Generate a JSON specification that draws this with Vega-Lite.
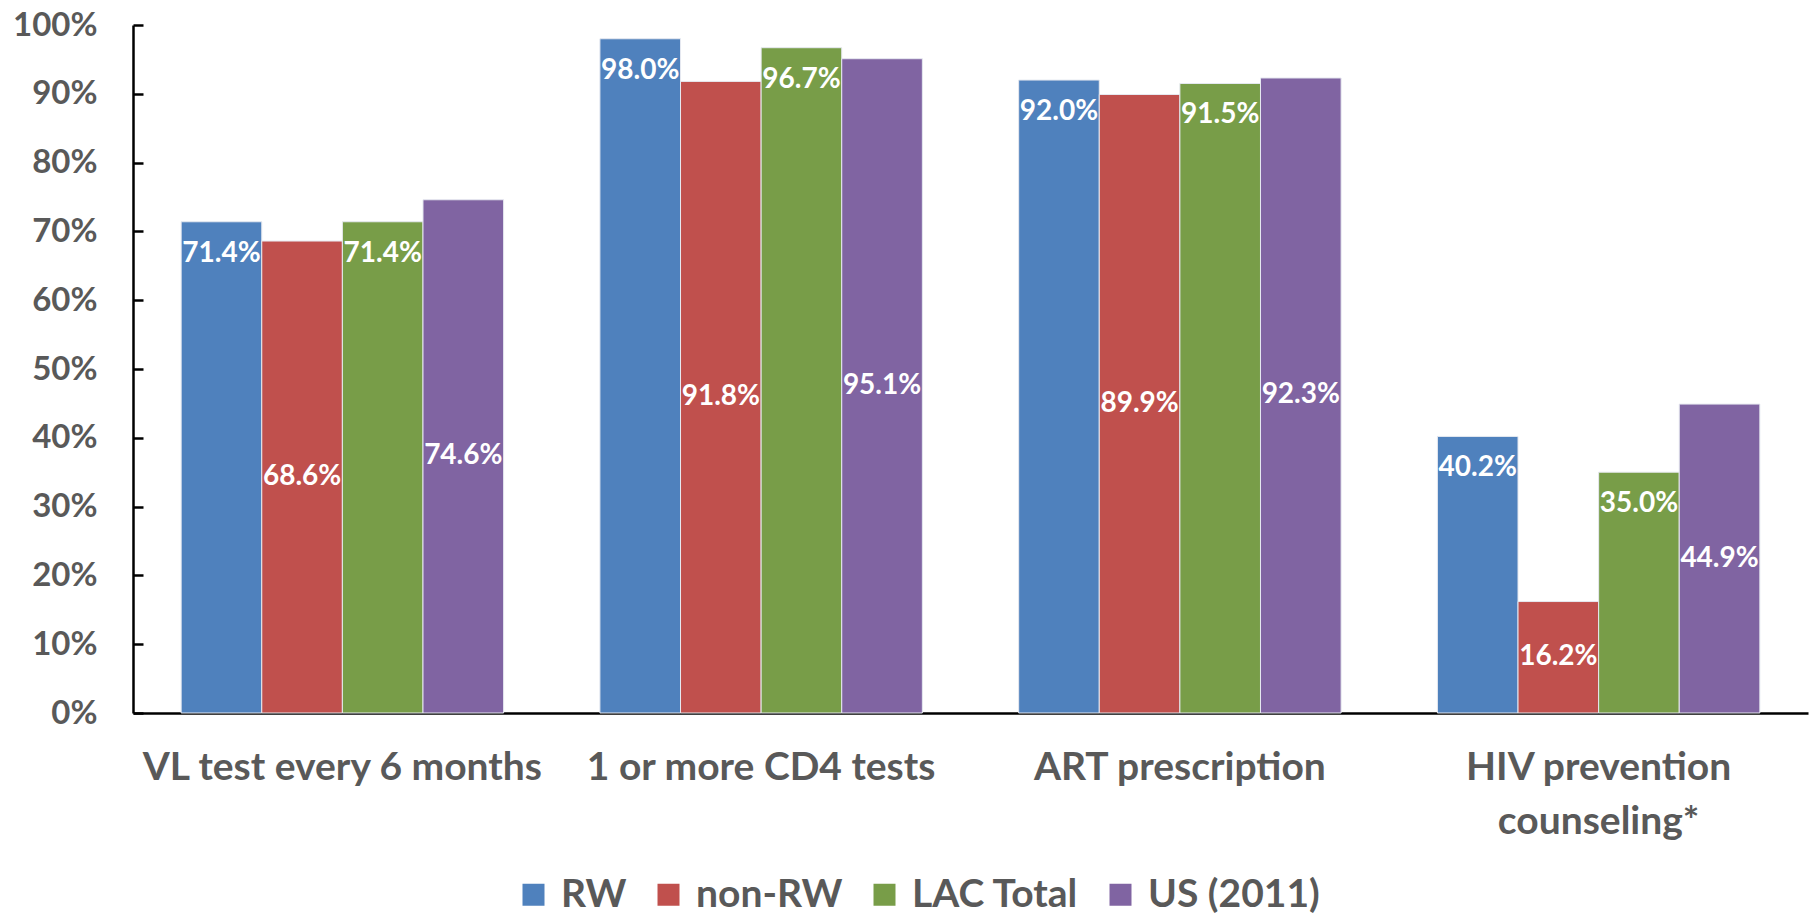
{
  "$schema": "https://vega.github.io/schema/vega-lite/v6.json",
  "autosize": {"type": "none"},
  "width": 1675,
  "height": 688,
  "padding": {"left": 133, "top": 25, "right": 3, "bottom": 201},
  "background": "white",
  "config": {
    "view": {"stroke": null},
    "font": "Lato"
  },
  "data": {
    "values": [
      {"category": "VL test every 6 months", "series": "RW", "value": 0.714},
      {"category": "VL test every 6 months", "series": "non-RW", "value": 0.686},
      {"category": "VL test every 6 months", "series": "LAC Total", "value": 0.714},
      {"category": "VL test every 6 months", "series": "US (2011)", "value": 0.746},
      {"category": "1 or more CD4 tests", "series": "RW", "value": 0.980},
      {"category": "1 or more CD4 tests", "series": "non-RW", "value": 0.918},
      {"category": "1 or more CD4 tests", "series": "LAC Total", "value": 0.967},
      {"category": "1 or more CD4 tests", "series": "US (2011)", "value": 0.951},
      {"category": "ART prescription", "series": "RW", "value": 0.920},
      {"category": "ART prescription", "series": "non-RW", "value": 0.899},
      {"category": "ART prescription", "series": "LAC Total", "value": 0.915},
      {"category": "ART prescription", "series": "US (2011)", "value": 0.923},
      {"category": "HIV prevention counseling*", "series": "RW", "value": 0.402},
      {"category": "HIV prevention counseling*", "series": "non-RW", "value": 0.162},
      {"category": "HIV prevention counseling*", "series": "LAC Total", "value": 0.350},
      {"category": "HIV prevention counseling*", "series": "US (2011)", "value": 0.449}
    ]
  },
  "encoding": {
    "x": {
      "field": "category",
      "type": "nominal",
      "sort": ["VL test every 6 months", "1 or more CD4 tests", "ART prescription", "HIV prevention counseling*"],
      "scale": {"paddingInner": 0.23, "paddingOuter": 0.115},
      "axis": {
        "title": null,
        "labelAngle": 0,
        "labelFont": "Lato",
        "labelFontWeight": "bold",
        "labelFontSize": 39,
        "labelColor": "#595959",
        "labelPadding": 35,
        "labelLineHeight": 54,
        "labelLimit": 0,
        "labelExpr": "datum.label == 'HIV prevention counseling*' ? ['HIV prevention', 'counseling*'] : datum.label",
        "ticks": false,
        "domainColor": "#000000",
        "domainWidth": 2.5
      }
    },
    "xOffset": {
      "field": "series",
      "type": "nominal",
      "sort": ["RW", "non-RW", "LAC Total", "US (2011)"],
      "scale": {"paddingInner": 0, "paddingOuter": 0}
    }
  },
  "layer": [
    {
      "mark": {"type": "bar", "stroke": "#e6e9f0", "strokeWidth": 1},
      "encoding": {
        "y": {
          "field": "value",
          "type": "quantitative",
          "scale": {"domain": [0, 1], "nice": false},
          "axis": {
            "title": null,
            "format": ".0%",
            "values": [0, 0.1, 0.2, 0.3, 0.4, 0.5, 0.6, 0.7, 0.8, 0.9, 1.0],
            "grid": false,
            "labelFont": "Lato",
            "labelFontWeight": "bold",
            "labelFontSize": 33,
            "labelColor": "#595959",
            "labelPadding": 46,
            "tickSize": -10,
            "tickColor": "#000000",
            "tickWidth": 2.5,
            "domainColor": "#000000",
            "domainWidth": 2.5
          }
        },
        "color": {
          "field": "series",
          "type": "nominal",
          "sort": ["RW", "non-RW", "LAC Total", "US (2011)"],
          "scale": {
            "domain": ["RW", "non-RW", "LAC Total", "US (2011)"],
            "range": ["#4F81BD", "#C0504D", "#789D48", "#8064A2"]
          },
          "legend": {
            "title": null,
            "orient": "none",
            "direction": "horizontal",
            "legendX": 381,
            "legendY": 850,
            "symbolType": "square",
            "symbolSize": 484,
            "symbolStrokeWidth": 0,
            "labelFont": "Lato",
            "labelFontWeight": "bold",
            "labelFontSize": 39,
            "labelLimit": 0,
            "labelColor": "#595959",
            "labelOffset": 8,
            "columnPadding": 22,
            "padding": 0
          }
        }
      }
    },
    {
      "transform": [{"filter": {"field": "series", "oneOf": ["RW", "LAC Total"]}}],
      "mark": {"type": "text", "color": "white", "fontWeight": "bold", "fontSize": 28, "font": "Lato", "baseline": "middle", "dy": 32},
      "encoding": {
        "y": {"field": "value", "type": "quantitative", "scale": {"domain": [0, 1], "nice": false}, "axis": null},
        "text": {"field": "value", "type": "quantitative", "format": ".1%"}
      }
    },
    {
      "transform": [{"filter": {"field": "series", "oneOf": ["non-RW", "US (2011)"]}}],
      "mark": {"type": "text", "color": "white", "fontWeight": "bold", "fontSize": 28, "font": "Lato", "baseline": "middle"},
      "encoding": {
        "y": {"field": "value", "type": "quantitative", "scale": {"domain": [0, 2], "nice": false}, "axis": null},
        "text": {"field": "value", "type": "quantitative", "format": ".1%"}
      }
    }
  ],
  "resolve": {"scale": {"y": "independent"}}
}
